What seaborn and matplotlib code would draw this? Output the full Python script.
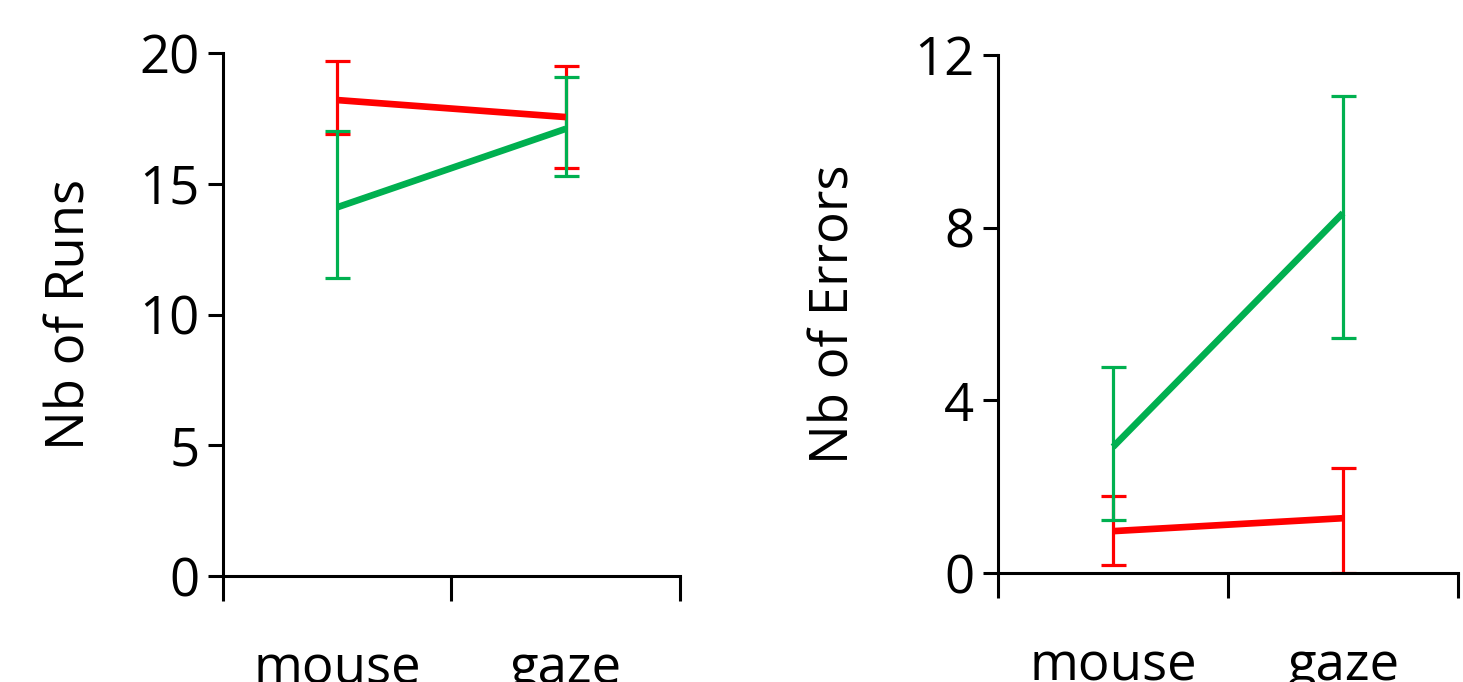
import numpy as np
import pandas as pd
import matplotlib
matplotlib.use("Agg")
import matplotlib.pyplot as plt
import seaborn as sns

# values
devices = ["mouse", "gaze"]
groups = ["red", "green"]

runs_red = [18.2, 17.55]
runs_red_lo = [16.9, 15.6]
runs_red_hi = [19.7, 19.5]
runs_green = [14.1, 17.1]
runs_green_lo = [11.4, 15.3]
runs_green_hi = [17.0, 19.1]

err_red = [0.97, 1.27]
err_red_lo = [0.19, 0.0]
err_red_hi = [1.78, 2.43]
err_green = [2.92, 8.34]
err_green_lo = [1.23, 5.44]
err_green_hi = [4.77, 11.05]

colors = {"red": "#FF0000", "green": "#00B050"}

sns.set_style("ticks")
plt.rcParams["font.family"] = ["Open Sans", "DejaVu Sans"]
plt.rcParams.update({"text.color": "black", "axes.labelcolor": "black",
                     "xtick.color": "black", "ytick.color": "black"})

fig = plt.figure(figsize=(14.63, 6.82), dpi=100)
ax1 = fig.add_axes([0.1524, 0.1554, 0.3124, 0.7669])
ax2 = fig.add_axes([0.6822, 0.1598, 0.3144, 0.7596])

xpos = [0.5, 1.5]


def panel(ax, series, ymax, yticks, ylabel, labelpad):
    rows = []
    for g, (mean, lo, hi) in series.items():
        for x, m in zip(xpos, mean):
            rows.append({"x": x, "y": m, "group": g})
    df = pd.DataFrame(rows)
    sns.lineplot(data=df, x="x", y="y", hue="group", palette=colors,
                 linewidth=4.8, legend=False, ax=ax, zorder=3,
                 solid_capstyle="butt")
    for g, (mean, lo, hi) in series.items():
        mean = np.array(mean)
        yerr = [mean - np.array(lo), np.array(hi) - mean]
        ax.errorbar(xpos, mean, yerr=yerr, fmt="none", ecolor=colors[g],
                    elinewidth=2.3, capsize=9, capthick=2.3, zorder=2)
    ax.set_xlim(0, 2)
    ax.set_ylim(0, ymax)
    ax.set_yticks(yticks)
    ax.set_xticks([0, 1, 2])
    ax.set_xticklabels([])
    ax.set_xticks(xpos, minor=True)
    ax.set_xticklabels(devices, minor=True, fontsize=38)
    ax.tick_params(axis="x", which="major", direction="out", length=18,
                   width=2.2)
    ax.tick_params(axis="x", which="minor", length=0, pad=48)
    ax.tick_params(axis="y", direction="out", length=11, width=2.2,
                   labelsize=38, pad=6)
    ax.set_xlabel("")
    ax.set_ylabel(ylabel, fontsize=38, labelpad=labelpad)
    for s in ["top", "right"]:
        ax.spines[s].set_visible(False)
    for s in ["left", "bottom"]:
        ax.spines[s].set_linewidth(2.2)
        ax.spines[s].set_color("black")


panel(ax1, {"red": (runs_red, runs_red_lo, runs_red_hi),
            "green": (runs_green, runs_green_lo, runs_green_hi)},
      20, [0, 5, 10, 15, 20], "Nb of Runs", 30)
panel(ax2, {"red": (err_red, err_red_lo, err_red_hi),
            "green": (err_green, err_green_lo, err_green_hi)},
      12, [0, 4, 8, 12], "Nb of Errors", 38)

fig.savefig("out.png", dpi=100)
